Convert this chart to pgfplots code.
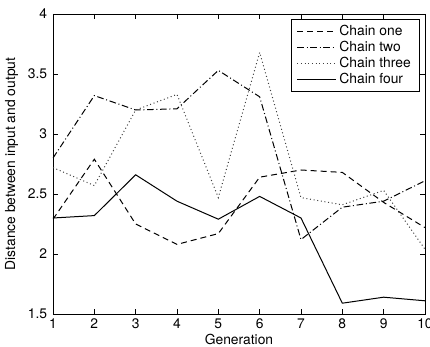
\documentclass[border=0pt]{standalone}
\usepackage{pgfplots}
\pgfplotsset{compat=1.18}
\usepackage{fontspec}
\setmainfont{TeX Gyre Heros}
\begin{document}
\begin{tikzpicture}
\useasboundingbox (-31.8pt,-19.8pt) rectangle (226.2pt,188.4pt);
\begin{axis}[
  scale only axis,
  width=223.2pt, height=180pt,
  xmin=1, xmax=10, ymin=1.5, ymax=4,
  xtick={1,...,10},
  ytick={1.5,2,2.5,3,3.5,4},
  yticklabels={1.5,2,2.5,3,3.5,4},
  tick align=inside,
  major tick length=3pt,
  tick style={black, line width=0.4pt},
  axis line style={black, line width=0.5pt},
  font=\fontsize{8.3}{9.6}\selectfont,
  /pgf/number format/assume math mode=true,
  xlabel={Generation},
  ylabel={Distance between input and output},
  xlabel style={yshift=4pt},
  ylabel style={yshift=-1pt},
  xticklabel style={yshift=0.5pt},
  every tick label/.append style={font=\fontsize{8.3}{9.6}\selectfont},
  legend cell align=left,
  legend style={at={(1,1)}, anchor=north east, xshift=-3.3pt, yshift=-3pt,
    draw=black, line width=0.5pt, inner xsep=3pt, inner ysep=1.5pt, row sep=-2.2pt,
    font=\fontsize{8.3}{9.6}\selectfont},
  legend image code/.code={\draw[#1] (0pt,0pt) -- (23pt,0pt);},
  every axis plot/.append style={line width=0.6pt, black},
]
\addplot[dash pattern=on 3.6pt off 2.4pt] coordinates {
(1,2.29) (2,2.79) (3,2.25) (4,2.08) (5,2.17) (6,2.64) (7,2.70) (8,2.68) (9,2.43) (10,2.22)};
\addlegendentry{Chain one}
\addplot[dash pattern=on 4pt off 1.6pt on 0.6pt off 1.6pt] coordinates {
(1,2.80) (2,3.32) (3,3.20) (4,3.21) (5,3.53) (6,3.31) (7,2.12) (8,2.39) (9,2.44) (10,2.61)};
\addlegendentry{Chain two}
\addplot[black!75, dash pattern=on 0.6pt off 1.6pt] coordinates {
(1,2.72) (2,2.57) (3,3.20) (4,3.33) (5,2.47) (6,3.68) (7,2.47) (8,2.41) (9,2.53) (10,2.04)};
\addlegendentry{Chain three}
\addplot[solid] coordinates {
(1,2.30) (2,2.32) (3,2.66) (4,2.44) (5,2.29) (6,2.48) (7,2.30) (8,1.59) (9,1.64) (10,1.61)};
\addlegendentry{Chain four}
\end{axis}
\end{tikzpicture}
\end{document}
